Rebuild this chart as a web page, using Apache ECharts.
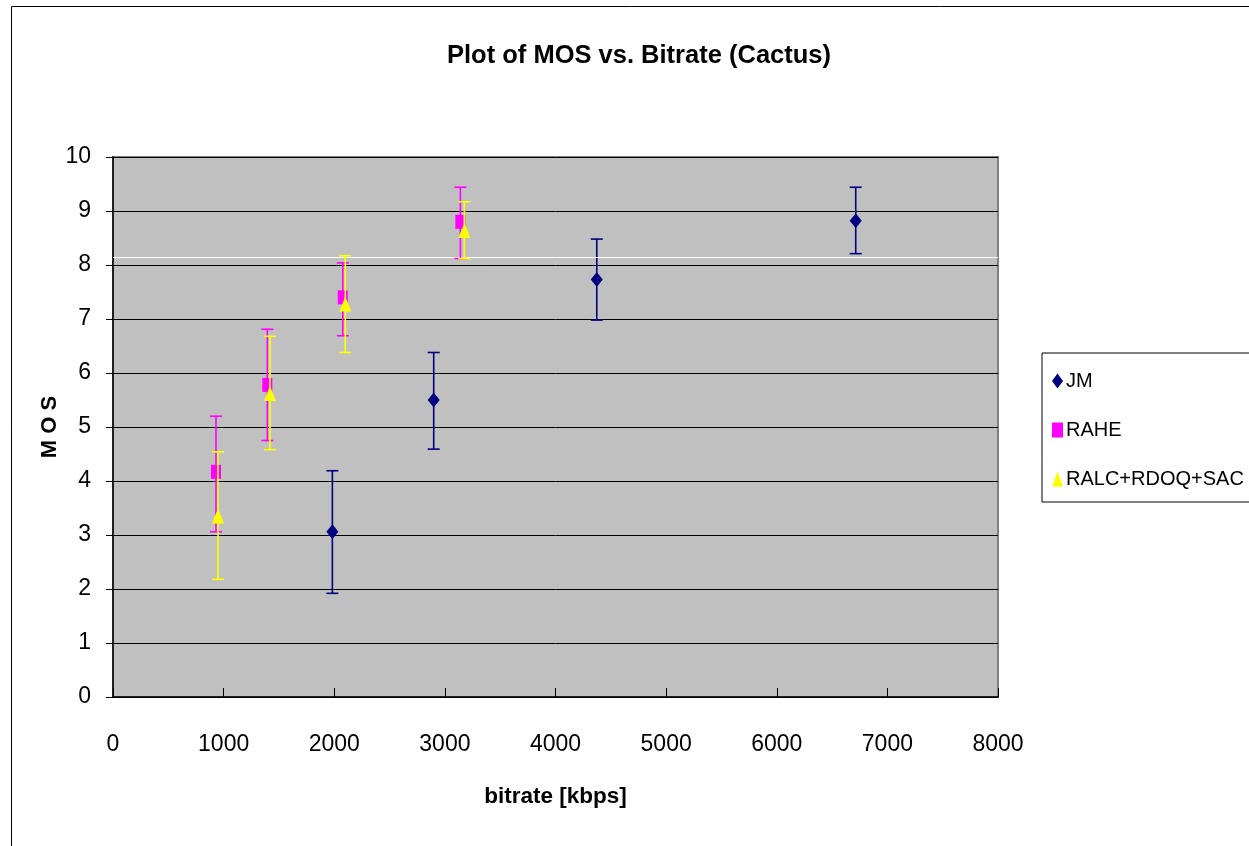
<!DOCTYPE html>
<html>
<head>
<meta charset="utf-8">
<script src="https://cdn.jsdelivr.net/npm/echarts@6/dist/echarts.min.js"></script>
<style>
  html, body { margin: 0; padding: 0; background: #fff; }
  #chart { width: 1249px; height: 846px; }
</style>
</head>
<body>
<div id="chart"></div>
<script>
// values
var xTicks = [0, 1000, 2000, 3000, 4000, 5000, 6000, 7000, 8000];
var yTicks = [0, 1, 2, 3, 4, 5, 6, 7, 8, 9, 10];

var jmRate = [1983, 2899, 4373, 6714];
var jmMos = [3.06, 5.50, 7.73, 8.82];
var jmLow = [1.92, 4.59, 6.98, 8.21];
var jmHigh = [4.19, 6.38, 8.48, 9.44];

var raheRate = [931, 1395, 2077, 3140];
var raheMos = [4.17, 5.78, 7.40, 8.80];
var raheLow = [3.06, 4.75, 6.69, 8.12];
var raheHigh = [5.20, 6.81, 8.04, 9.44];

var ralcRate = [949, 1419, 2100, 3176];
var ralcMos = [3.35, 5.62, 7.28, 8.64];
var ralcLow = [2.18, 4.58, 6.38, 8.12];
var ralcHigh = [4.54, 6.68, 8.17, 9.17];

var whiteLine = 8.15; // stray light line across the plot

var FONT = "'Liberation Sans', Arial, sans-serif";

var chart = echarts.init(document.getElementById('chart'));

function points(xs, ys) {
    return xs.map(function (x, i) { return [x, ys[i]]; });
}
function bars(xs, lo, hi) {
    return xs.map(function (x, i) { return [x, lo[i], hi[i]]; });
}
function errorBars(color) {
    return function (params, api) {
        var x = api.value(0);
        var lo = api.coord([x, api.value(1)]);
        var hi = api.coord([x, api.value(2)]);
        var w = 6;
        var st = { stroke: color, lineWidth: 1.6 };
        return {
            type: 'group',
            children: [
                { type: 'line', shape: { x1: lo[0], y1: lo[1], x2: hi[0], y2: hi[1] }, style: st },
                { type: 'line', shape: { x1: lo[0] - w, y1: lo[1], x2: lo[0] + w, y2: lo[1] }, style: st },
                { type: 'line', shape: { x1: hi[0] - w, y1: hi[1], x2: hi[0] + w, y2: hi[1] }, style: st }
            ]
        };
    };
}

var option = {
    animation: false,
    backgroundColor: '#fff',
    graphic: [{
        type: 'rect',
        shape: { x: 11.5, y: 6.5, width: 1300, height: 900 },
        style: { fill: 'none', stroke: '#000', lineWidth: 1 },
        z: 100
    }],
    title: {
        text: 'Plot of MOS vs. Bitrate (Cactus)',
        left: 639,
        top: 43,
        textAlign: 'center',
        padding: 0,
        textStyle: { fontFamily: FONT, fontSize: 25.5, fontWeight: 'bold', color: '#000' }
    },
    legend: {
        orient: 'vertical',
        left: 1042,
        top: 353,
        padding: [16, 300, 11, 10],
        itemGap: 25,
        itemWidth: 11,
        itemHeight: 15,
        backgroundColor: '#fff',
        borderColor: '#000',
        borderWidth: 1,
        data: ['JM', 'RAHE', 'RALC+RDOQ+SAC'],
        textStyle: { fontFamily: FONT, fontSize: 20, lineHeight: 24, color: '#000', padding: [0, 0, 0, -2] }
    },
    grid: {
        left: 113, top: 157, width: 885, height: 540,
        show: true,
        backgroundColor: '#C0C0C0',
        borderColor: '#808080',
        borderWidth: 2
    },
    xAxis: {
        type: 'value',
        min: xTicks[0],
        max: xTicks[xTicks.length - 1],
        interval: 1000,
        name: 'bitrate [kbps]',
        nameLocation: 'middle',
        nameGap: 88,
        nameMoveOverlap: false,
        nameTextStyle: { fontFamily: FONT, fontSize: 22.5, fontWeight: 'bold', color: '#000' },
        axisLine: { lineStyle: { color: '#000', width: 1.5 } },
        axisTick: { inside: true, length: 9, lineStyle: { color: '#000' } },
        axisLabel: {
            margin: 36, fontFamily: FONT, fontSize: 23, color: '#000',
            formatter: function (v) { return String(v); }
        },
        splitLine: { show: false }
    },
    yAxis: {
        type: 'value',
        min: yTicks[0],
        max: yTicks[yTicks.length - 1],
        interval: 1,
        name: 'M O S',
        nameLocation: 'middle',
        nameRotate: 90,
        nameGap: 52,
        nameMoveOverlap: false,
        nameTextStyle: { fontFamily: FONT, fontSize: 22, fontWeight: 'bold', color: '#000' },
        axisLine: { show: true, lineStyle: { color: '#000', width: 1.5 } },
        axisTick: { show: true, length: 7, lineStyle: { color: '#000' } },
        axisLabel: {
            margin: 22, fontFamily: FONT, fontSize: 23, color: '#000',
            formatter: function (v) { return String(v); }
        },
        splitLine: { lineStyle: { color: '#000', width: 1 } }
    },
    series: [
        {
            name: 'JM err', type: 'custom', renderItem: errorBars('#000080'),
            data: bars(jmRate, jmLow, jmHigh), z: 3,
            markLine: {
                silent: true, symbol: 'none', label: { show: false },
                lineStyle: { color: '#fff', width: 1, type: 'solid' },
                data: [{ yAxis: whiteLine }]
            }
        },
        {
            name: 'JM', type: 'scatter', symbol: 'diamond', symbolSize: [12, 15],
            itemStyle: { color: '#000080', opacity: 1 }, data: points(jmRate, jmMos), z: 4
        },
        {
            name: 'RAHE err', type: 'custom', renderItem: errorBars('#FF00FF'),
            data: bars(raheRate, raheLow, raheHigh), z: 5
        },
        {
            name: 'RAHE', type: 'scatter', symbol: 'rect', symbolSize: [10, 14],
            itemStyle: { color: '#FF00FF', opacity: 1 }, data: points(raheRate, raheMos), z: 6
        },
        {
            name: 'RALC+RDOQ+SAC err', type: 'custom', renderItem: errorBars('#FFFF00'),
            data: bars(ralcRate, ralcLow, ralcHigh), z: 7
        },
        {
            name: 'RALC+RDOQ+SAC', type: 'scatter', symbol: 'triangle', symbolSize: [12, 15],
            itemStyle: { color: '#FFFF00', opacity: 1 }, data: points(ralcRate, ralcMos), z: 8
        }
    ]
};

chart.setOption(option);
</script>
</body>
</html>
